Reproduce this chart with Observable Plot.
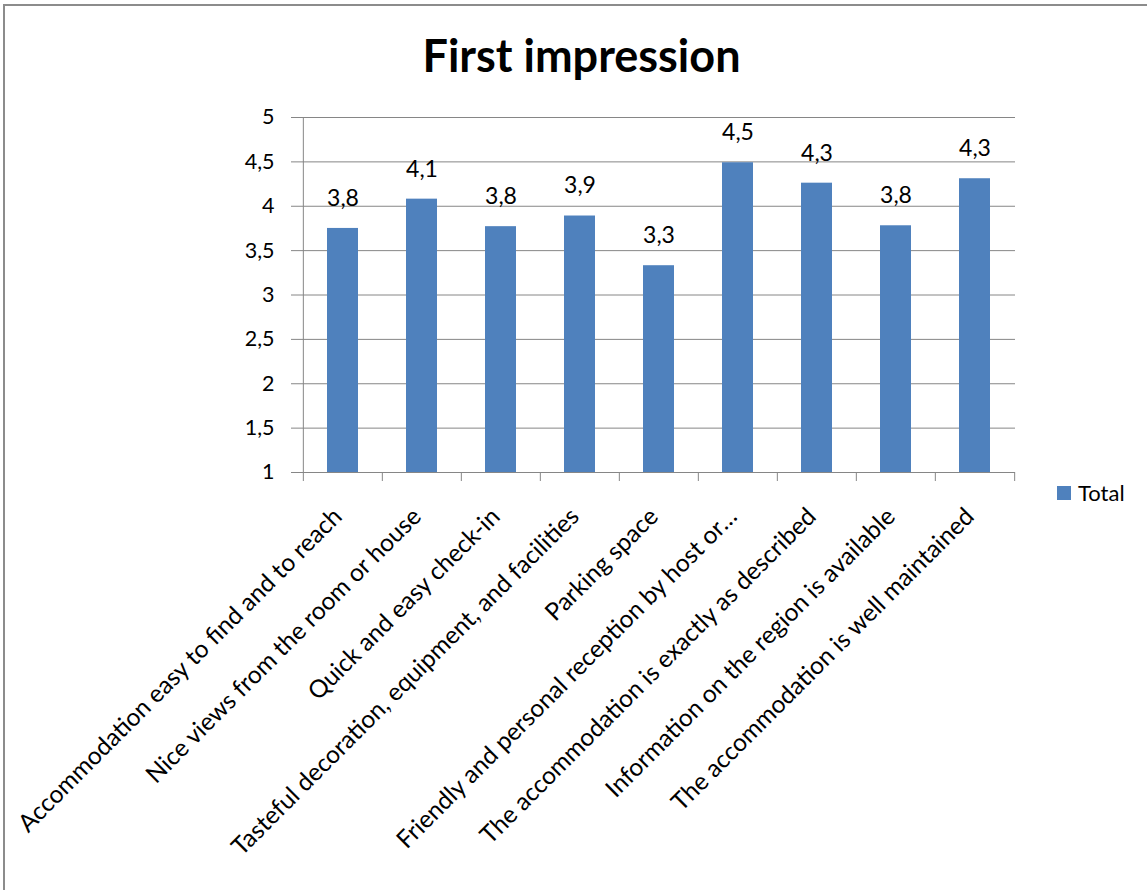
<!DOCTYPE html>
<html>
<head>
<meta charset="utf-8">
<script src="https://cdn.jsdelivr.net/npm/d3@7"></script>
<script src="https://cdn.jsdelivr.net/npm/@observablehq/plot@0.6"></script>
<style>
  html, body { margin: 0; padding: 0; background: #fff; overflow: hidden; width: 1147px; height: 890px; }
  #page { position: relative; width: 1147px; height: 890px; font-family: Lato, "Open Sans", sans-serif; color: #000; }
  #border { position: absolute; left: 3px; top: 4px; width: 1200px; height: 1000px; border: 2px solid #8c8c8c; box-sizing: border-box; }
  #title { position: absolute; left: 0; top: 0; width: 1163px; height: 100px; text-align: center; font-weight: 700; font-size: 45px; line-height: 1; padding-top: 33px; box-sizing: border-box; }
  #chart { position: absolute; left: 0; top: 100px; }
  #legend { position: absolute; left: 1057px; top: 479px; display: flex; align-items: center; font-size: 22px; }
  #legend .sw { width: 14px; height: 14px; background: #4f81bd; margin-right: 7px; }
</style>
</head>
<body>
<div id="page">
  <div id="border"></div>
  <div id="title">First impression</div>
  <div id="chart"></div>
  <div id="legend"><span class="sw"></span><span id="legend-label"></span></div>
</div>
<script>
// Survey items (as shown on the axis) and their average scores
const categories = [
  "Accommodation easy to find and to reach",
  "Nice views from the room or house",
  "Quick and easy check-in",
  "Tasteful decoration, equipment, and facilities",
  "Parking space",
  "Friendly and personal reception by host or…",
  "The accommodation is exactly as described",
  "Information on the region is available",
  "The accommodation is well maintained"
];
const totals = [3.75, 4.08, 3.77, 3.89, 3.33, 4.49, 4.26, 3.78, 4.31];
const seriesName = "Total";
const yTicks = [1, 1.5, 2, 2.5, 3, 3.5, 4, 4.5, 5];

const data = categories.map((category, i) => ({category, value: totals[i]}));

const barColor = "#4f81bd";
const lineColor = "#868686";
const commaDecimal = (s) => s.replace(".", ",");
const fmtTick = (d) => commaDecimal(String(d));
const fmtValue = (d) => commaDecimal(d.toFixed(1));

// Layout of the plotting area inside the SVG
const W = 1147, H = 790;
const plotLeft = 301, plotRight = 1015, plotTop = 17, plotBottom = 372;
const step = (plotRight - plotLeft) / categories.length;

const chart = Plot.plot({
  width: W,
  height: H,
  marginLeft: plotLeft,
  marginRight: W - plotRight,
  marginTop: plotTop,
  marginBottom: H - plotBottom,
  style: {fontFamily: "Lato, 'Open Sans', sans-serif", fontSize: "21px", color: "#000", background: "transparent", overflow: "visible"},
  x: {domain: categories, padding: 0, label: null},
  y: {domain: [yTicks[0], yTicks[yTicks.length - 1]], label: null},
  marks: [
    Plot.gridY(yTicks, {stroke: lineColor, strokeOpacity: 1}),
    Plot.axisY(yTicks, {tickSize: 10, tickPadding: 17, stroke: lineColor, fill: "#000", tickFormat: fmtTick, fontSize: 21.5, label: null}),
    Plot.ruleY([yTicks[0]], {stroke: lineColor}),
    Plot.ruleX([categories[0]], {dx: -step / 2, stroke: lineColor}),
    Plot.axisX({tickSize: 9, tickFormat: () => "", dx: -step / 2, stroke: lineColor, label: null}),
    Plot.axisX([categories[categories.length - 1]], {tickSize: 9, tickFormat: () => "", dx: step / 2, stroke: lineColor, label: null}),
    Plot.barY(data, {x: "category", y1: yTicks[0], y2: "value", fill: barColor, insetLeft: 24, insetRight: 24}),
    Plot.text(data, {x: "category", y: "value", text: (d) => fmtValue(d.value), dy: -30, fontSize: 23, fill: "#000"}),
    Plot.axisX({tickSize: 0, tickRotate: -45, tickPadding: 6, dx: -5, dy: 34, fontSize: 24.5, fill: "#000", label: null})
  ]
});
document.getElementById("chart").appendChild(chart);
document.getElementById("legend-label").textContent = seriesName;
</script>
</body>
</html>
